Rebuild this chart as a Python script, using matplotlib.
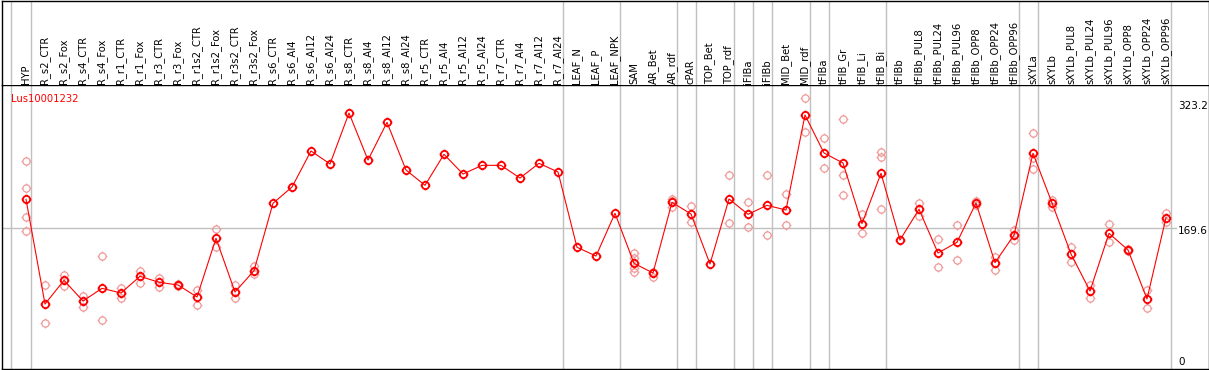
import numpy as np
import matplotlib
matplotlib.use("Agg")
import matplotlib.pyplot as plt
from matplotlib.path import Path
import matplotlib.transforms as mtransforms

# ---------------- data ----------------
names = ["HYP", "R_s2_CTR", "R_s2_Fox", "R_s4_CTR", "R_s4_Fox", "R_r1_CTR", "R_r1_Fox",
         "R_r3_CTR", "R_r3_Fox", "R_r1s2_CTR", "R_r1s2_Fox", "R_r3s2_CTR", "R_r3s2_Fox",
         "R_s6_CTR", "R_s6_Al4", "R_s6_Al12", "R_s6_Al24", "R_s8_CTR", "R_s8_Al4",
         "R_s8_Al12", "R_s8_Al24", "R_r5_CTR", "R_r5_Al4", "R_r5_Al12", "R_r5_Al24",
         "R_r7_CTR", "R_r7_Al4", "R_r7_Al12", "R_r7_Al24", "LEAF_N", "LEAF_P", "LEAF_NPK",
         "SAM", "AR_Bet", "AR_rdf", "cPAR", "TOP_Bet", "TOP_rdf", "iFIBa", "iFIBb",
         "MID_Bet", "MID_rdf", "tFIBa", "tFIB_Gr", "tFIB_Li", "tFIB_Bi", "tFIBb",
         "tFIBb_PUL8", "tFIBb_PUL24", "tFIBb_PUL96", "tFIBb_OPP8", "tFIBb_OPP24",
         "tFIBb_OPP96", "sXYLa", "sXYLb", "sXYLb_PUL8", "sXYLb_PUL24", "sXYLb_PUL96",
         "sXYLb_OPP8", "sXYLb_OPP24", "sXYLb_OPP96"]

means = [205.1, 77.0, 106.0, 80.7, 96.2, 90.5, 110.9, 103.6, 100.3, 85.6, 157.4, 91.7,
         117.8, 200.2, 220.1, 264.2, 248.3, 310.6, 253.1, 299.2, 240.9, 222.2, 260.1,
         236.0, 246.6, 246.6, 231.1, 249.1, 238.5, 146.4, 135.7, 188.0, 126.8, 115.0,
         201.4, 187.1, 126.0, 205.5, 186.7, 197.7, 192.0, 308.2, 261.7, 249.5, 175.3,
         236.9, 155.3, 192.9, 139.4, 152.5, 200.6, 127.6, 161.4, 261.3, 200.6, 138.2,
         92.9, 163.5, 143.1, 83.2, 182.6]

replicates = [
    [251.5, 218.5, 183.1, 166.3],   # HYP
    [99.9, 53.8], [112.9, 98.7], [87.2, 73.8], [135.7, 57.1],
    [97.0, 84.0], [117.8, 103.1], [109.2, 98.2], [101.5, 99.2],
    [93.8, 75.4], [168.8, 146.8], [99.9, 84.0], [123.9, 113.7],
    [], [], [], [], [], [], [], [], [], [], [], [], [], [], [], [],   # R_s6_CTR .. R_r7_Al24
    [], [], [],                      # LEAF_N, LEAF_P, LEAF_NPK
    [139.0, 132.9, 120.7, 115.8],    # SAM
    [116.5, 109.7],                  # AR_Bet
    [205.5, 203.4, 195.3],           # AR_rdf
    [196.9, 177.0],                  # cPAR
    [],                              # TOP_Bet
    [234.4, 175.7],                  # TOP_rdf
    [201.4, 171.2],                  # iFIBa
    [234.4, 161.1],                  # iFIBb
    [211.2, 173.3],                  # MID_Bet
    [328.6, 287.8],                  # MID_rdf
    [279.7, 243.0],                  # tFIBa
    [302.9, 234.4, 210.0],           # tFIB_Gr
    [186.7, 164.2],                  # tFIB_Li
    [263.3, 256.5, 192.9],           # tFIB_Bi
    [],                              # tFIBb
    [200.6, 184.3], [156.2, 121.9], [173.3, 130.5],
    [203.4, 197.8], [134.9, 119.0], [167.5, 155.7],
    [285.8, 255.2, 242.5],           # sXYLa
    [204.2, 196.0], [146.4, 128.4], [100.6, 84.7], [174.9, 152.5],
    [144.3, 141.7], [94.5, 71.8], [188.0, 177.7],
]

group_ends = [0, 28, 31, 34, 35, 37, 38, 39, 41, 42, 45, 52, 53, 60]
y_ticks = [0, 169.6, 323.2]
y_tick_labels = ["0", "169.6", "323.2"]
gene = "Lus10001232"

# ---------------- layout ----------------
W, H = 1209, 370
fig = plt.figure(figsize=(W / 100, H / 100), dpi=100)
fig.patch.set_facecolor("white")

def fx(px):
    return px / W

def fy(py):
    return 1 - py / H

left_px, right_px = 1.5, 1208.5
top_px, sep_px, bot_px = 0.5, 85.0, 369.0

ax = fig.add_axes([fx(left_px), fy(bot_px), fx(right_px - left_px), (bot_px - sep_px) / H])
axl = fig.add_axes([fx(left_px), fy(sep_px), fx(right_px - left_px), (sep_px - top_px) / H],
                   sharex=ax)

# x: category i centre at pixel 26 + 19*i
x0_px, step = 26.0, 19.0
xmin = (left_px - x0_px) / step
xmax = (right_px - x0_px) / step
ax.set_xlim(xmin, xmax)
# y: 0 at pixel 367, 0.8177 px per unit
scale = 0.8177
zero_px = 367.0
ax.set_ylim(-(bot_px - zero_px) / scale, (zero_px - sep_px) / scale)
axl.set_ylim(0, 1)

for a in (ax, axl):
    a.set_xticks([])
    a.set_yticks([])
    for s in a.spines.values():
        s.set_color("black")
        s.set_linewidth(1.0)
axl.spines["bottom"].set_visible(False)

grey = "#c0c0c0"
sep_positions = [-0.805] + [g + 0.25 for g in group_ends]
for xp in sep_positions:
    ax.axvline(xp, color=grey, lw=1.0, zorder=1)
    axl.axvline(xp, color=grey, lw=1.0, zorder=1)

# mid grid line
xend_frac = (1176 - left_px) / (right_px - left_px)
ax.axhline(y_ticks[1], xmin=0, xmax=xend_frac, color=grey, lw=1.0, zorder=1)

# custom marker: circle with four small ticks
circ = Path.unit_circle()
verts = list(circ.vertices)
codes = list(circ.codes)
for (dx, dy) in [(0, 1), (0, -1), (1, 0), (-1, 0)]:
    verts += [(dx * 1.0, dy * 1.0), (dx * 1.35, dy * 1.35)]
    codes += [Path.MOVETO, Path.LINETO]
marker = Path(verts, codes)

x = np.arange(len(names))
rep_x = [i for i, r in enumerate(replicates) for _ in r]
rep_y = [v for r in replicates for v in r]

ax.plot(rep_x, rep_y, linestyle="none", marker=marker, markersize=7.0,
        markerfacecolor="none", markeredgecolor="#f09a9a", markeredgewidth=0.9,
        zorder=2, clip_on=False)
ax.plot(x, means, color="#ff0000", lw=0.8, zorder=3)
ax.plot(x, means, linestyle="none", marker=marker, markersize=7.0,
        markerfacecolor="none", markeredgecolor="#ff0000", markeredgewidth=1.3, zorder=4)

# category labels
lab_trans = mtransforms.blended_transform_factory(axl.transData, axl.transAxes)
lab_y = (sep_px - 84.0) / (sep_px - top_px)
for i, n in enumerate(names):
    axl.text(i, lab_y, n, rotation=90, ha="center", va="bottom", fontsize=7.2,
             family="DejaVu Sans", color="black", transform=lab_trans)

# y labels on the right
yl_trans = mtransforms.blended_transform_factory(ax.transAxes, ax.transData)
xlab = (1178 - left_px) / (right_px - left_px)
for v, t in zip(y_ticks, y_tick_labels):
    if v == 0:
        ax.text(xlab, v, t, ha="left", va="bottom", fontsize=7.5, transform=yl_trans,
                color="black", clip_on=True)
    else:
        ax.annotate(t, (xlab, v), xycoords=yl_trans, xytext=(0, 1.5),
                    textcoords="offset points", ha="left", va="top", fontsize=7.5,
                    color="black", annotation_clip=False, clip_on=True)

# gene label
ax.text(fx(10) / fx(right_px - left_px) - 0.0, 1 - (94 - sep_px) / (bot_px - sep_px), gene,
        transform=ax.transAxes, ha="left", va="top", fontsize=7.2, color="#ff0000")

fig.savefig("out.png", dpi=100)
